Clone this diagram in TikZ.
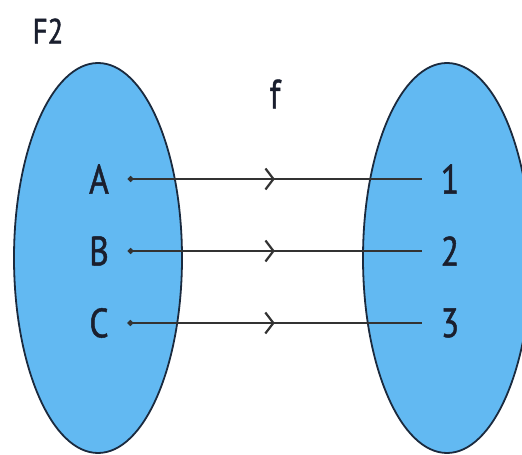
\documentclass[tikz,border=0pt]{standalone}
\usepackage{fontspec}
\setmainfont[FakeStretch=0.82,FakeBold=1.2]{PT Sans}
\usetikzlibrary{
  arrows.meta,
  positioning,
  shapes.geometric,
  decorations.markings
}
\definecolor{setblue}{HTML}{62B9F2}
\definecolor{setline}{HTML}{1B2A3E}
\definecolor{mapline}{HTML}{333333}
\definecolor{labelink}{HTML}{1A1F2E}

\begin{document}
\begin{tikzpicture}[
    x=1pt, y=1pt,
    node distance=72pt,
    setbox/.style={ellipse, draw=setline, line width=1.8pt, fill=setblue, minimum width=168pt, minimum height=390pt, inner sep=0pt},
    elem/.style={text=labelink, font=\fontsize{41}{44}\selectfont, inner sep=0pt, outer sep=19pt},
    mapsto/.style={draw=mapline, line width=2.2pt, {Circle[length=5.5pt]}-, postaction={decorate},
      decoration={markings, mark=at position 0.5 with {\arrow{Straight Barb[length=8pt,width=21pt]}}}}
  ]
  \useasboundingbox (0,0) rectangle (522,455);
  \clip (0,0) rectangle (522,455);

  % Insiemi
  \node (dom) [setbox] at (98,197) {};
  \node (codom) [setbox] at (447,197) {};

  % Titoli
  \node (title) at (48,424) [text=labelink, font=\fontsize{35}{38}\selectfont] {F2};
  \node (fname) at (275,361) [elem, outer sep=0pt] {f};

  % Elementi
  \node (A) [elem] at (99,276) {A};
  \node (B) [elem, below of=A] {B};
  \node (C) [elem, below of=B] {C};

  \node (n1) [elem] at (450,276) {1};
  \node (n2) [elem, below of=n1] {2};
  \node (n3) [elem, below of=n2] {3};

  % Collegamenti
  \draw [mapsto] (A) -- (n1);
  \draw [mapsto] (B) -- (n2);
  \draw [mapsto] (C) -- (n3);

\end{tikzpicture}
\end{document}
